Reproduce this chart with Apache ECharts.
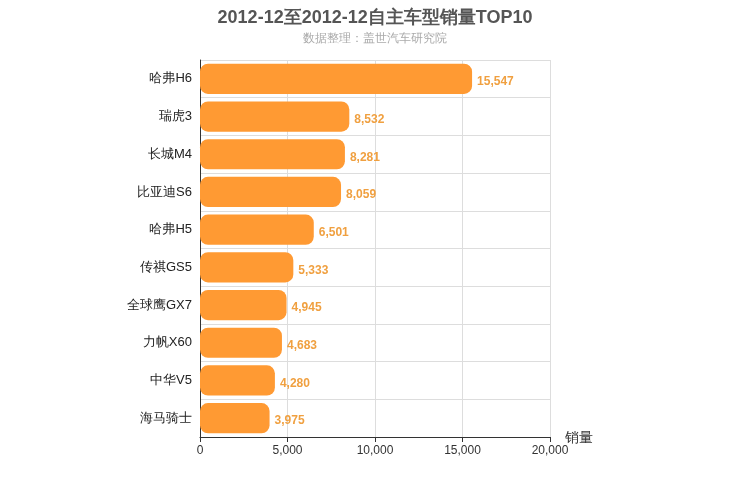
<!DOCTYPE html>
<html><head><meta charset="utf-8">
<script src="https://cdn.jsdelivr.net/npm/echarts@6/dist/echarts.min.js"></script>
<style>html,body{margin:0;padding:0;}#c{width:750px;height:500px;}</style>
</head><body><div id="c"></div>
<script>
const categories = ['哈弗H6','瑞虎3','长城M4','比亚迪S6','哈弗H5','传祺GS5','全球鹰GX7','力帆X60','中华V5','海马骑士'];
const sales = [15547,8532,8281,8059,6501,5333,4945,4683,4280,3975];
const xTicks = {min:0,max:20000,interval:5000};
const chart = echarts.init(document.getElementById('c'));
chart.setOption({
  title:{text:'2012-12至2012-12自主车型销量TOP10',subtext:'数据整理：盖世汽车研究院',left:'center',top:4,
    textStyle:{fontSize:18,fontWeight:'bold',color:'#555'},subtextStyle:{fontSize:12,color:'#aaa'},itemGap:6},
  grid:{left:200,right:200,top:60,bottom:63},
  xAxis:{type:'value',min:xTicks.min,max:xTicks.max,interval:xTicks.interval,name:'销量',nameLocation:'end',
    nameGap:15,nameTextStyle:{fontSize:14,color:'#333',verticalAlign:'top',padding:[-6,0,0,0]},
    axisLine:{show:true,lineStyle:{color:'#333'}},axisTick:{show:true},
    axisLabel:{color:'#333',fontSize:12,formatter:v=>v.toLocaleString('en-US')},
    splitLine:{lineStyle:{color:'#ddd'}}},
  yAxis:{type:'category',data:categories,inverse:true,
    axisLine:{lineStyle:{color:'#333'}},axisTick:{show:false},
    axisLabel:{color:'#222',fontSize:13},
    splitLine:{show:true,lineStyle:{color:'#ddd'}}},
  series:[{type:'bar',data:sales,barWidth:'80%',
    itemStyle:{color:'#FF9A33',borderRadius:8},
    label:{show:true,position:'right',color:'#F0A040',fontWeight:'bold',fontSize:12,offset:[0,3],
      formatter:p=>p.value.toLocaleString('en-US')}}]
});
</script></body></html>
